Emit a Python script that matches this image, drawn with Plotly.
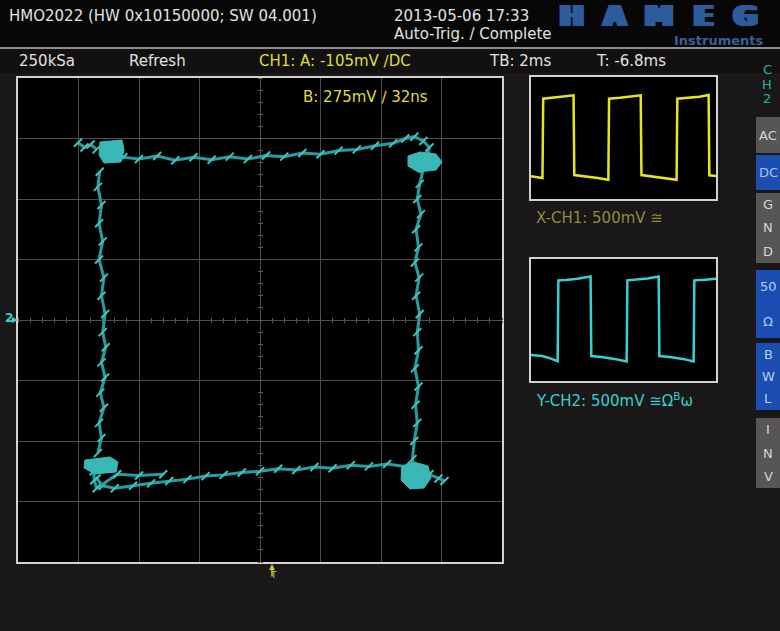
import plotly.graph_objects as go

W, H = 780, 631

# ---------------- data (screen divisions, 500 mV/div) ----------------
# XY trace, CH1 on X, CH2 on Y, drawn edge by edge
top_x = [-2.26, -2.00, -1.70, -1.40, -1.10, -0.80, -0.50, -0.20, 0.10, 0.40, 0.70,
         1.00, 1.30, 1.60, 1.90, 2.20, 2.40, 2.55, 2.70, 2.80, 2.75]
top_y = [2.69, 2.66, 2.71, 2.64, 2.69, 2.65, 2.70, 2.66, 2.72, 2.70, 2.76,
         2.74, 2.80, 2.82, 2.88, 2.92, 3.00, 3.03, 2.96, 2.85, 2.70]

right_x = [2.70, 2.64, 2.60, 2.66, 2.58, 2.62, 2.56, 2.63, 2.58, 2.64, 2.60,
           2.62, 2.56, 2.62, 2.57, 2.60, 2.55, 2.52, 2.53]
right_y = [2.50, 2.25, 2.00, 1.75, 1.50, 1.20, 0.95, 0.70, 0.40, 0.10, -0.20,
           -0.50, -0.80, -1.10, -1.40, -1.70, -2.00, -2.30, -2.50]

bottom_x = [2.40, 2.10, 1.80, 1.50, 1.20, 0.90, 0.60, 0.30, 0.00, -0.30, -0.60,
            -0.90, -1.20, -1.50, -1.80, -2.10, -2.40, -2.60, -2.70]
bottom_y = [-2.42, -2.38, -2.42, -2.40, -2.45, -2.43, -2.48, -2.46, -2.50, -2.52, -2.56,
            -2.58, -2.63, -2.66, -2.70, -2.74, -2.78, -2.74, -2.62]

left_x = [-2.68, -2.62, -2.66, -2.58, -2.64, -2.56, -2.62, -2.55, -2.60, -2.56,
          -2.62, -2.58, -2.66, -2.60, -2.66, -2.62, -2.68, -2.65]
left_y = [-2.20, -1.95, -1.70, -1.45, -1.20, -0.95, -0.70, -0.45, -0.20, 0.10,
          0.40, 0.70, 1.00, 1.30, 1.60, 1.90, 2.20, 2.45]

# short stray strokes near the corners
stray_tl_x = [-3.01, -2.90, -2.80, -2.70]
stray_tl_y = [2.93, 2.85, 2.90, 2.82]
stray_bl_x = [-2.75, -2.74, -2.70, -2.36, -2.00, -1.60]
stray_bl_y = [-2.50, -2.65, -2.78, -2.55, -2.57, -2.55]
stray_br_x = [2.80, 2.95, 3.05]
stray_br_y = [-2.55, -2.62, -2.66]

# dwell areas at the four corners (outlines)
blob_tl_x = [-2.645, -2.281, -2.248, -2.298, -2.579, -2.661, -2.645]
blob_tl_y = [2.942, 2.975, 2.810, 2.612, 2.595, 2.727, 2.942]
blob_tr_x = [2.446, 2.645, 2.909, 3.008, 2.909, 2.612, 2.446, 2.446]
blob_tr_y = [2.711, 2.777, 2.744, 2.612, 2.479, 2.446, 2.545, 2.711]
blob_br_x = [2.347, 2.545, 2.777, 2.826, 2.711, 2.479, 2.331, 2.347]
blob_br_y = [-2.413, -2.347, -2.413, -2.612, -2.777, -2.793, -2.645, -2.413]
blob_bl_x = [-2.893, -2.479, -2.347, -2.380, -2.727, -2.909, -2.893]
blob_bl_y = [-2.314, -2.264, -2.347, -2.512, -2.545, -2.446, -2.314]

# CH1 (X) time view
ch1_t = [0.00, 0.35, 0.62, 0.66, 1.20, 1.70, 2.30, 2.34, 3.00, 3.60, 4.18, 4.22,
         4.80, 5.40, 5.93, 5.97, 6.60, 7.20, 7.87, 7.91, 8.50, 9.10, 9.60, 9.64, 10.0]
ch1_v = [-2.50, -2.55, -2.62, 2.58, 2.64, 2.70, 2.80, -2.43, -2.52, -2.62, -2.74, 2.58,
         2.64, 2.70, 2.80, -2.43, -2.52, -2.62, -2.74, 2.58, 2.64, 2.70, 2.82, -2.45, -2.50]

# CH2 (Y) time view
ch2_t = [0.00, 0.60, 1.00, 1.44, 1.48, 1.90, 2.50, 3.22, 3.26, 3.80, 4.50, 5.17, 5.21,
         5.70, 6.30, 6.90, 6.94, 7.50, 8.20, 8.79, 8.83, 9.40, 10.0]
ch2_v = [-2.30, -2.36, -2.50, -2.70, 2.60, 2.62, 2.70, 2.85, -2.36, -2.42, -2.55, -2.72, 2.60,
         2.64, 2.72, 2.85, -2.36, -2.42, -2.55, -2.72, 2.60, 2.64, 2.70]

# ---------------- colours ----------------
BG = "#1a1718"
TEAL = "#2a9c9c"
TEAL_HATCH = "#3fc4c4"
TEAL_FILL = "#3ab8b8"
YEL = "#e6e61e"
CYAN = "#35d2d2"
GRID = "#4d4d4d"
FRAME = "#d2d2d2"
LOGO = "#2d5c9c"


def fx(p):
    return p / W


def fy(p):
    return 1 - p / H


fig = go.Figure()

# ---- XY view ----
for xs, ys in [(top_x, top_y), (right_x, right_y), (bottom_x, bottom_y), (left_x, left_y),
               (stray_tl_x, stray_tl_y), (stray_bl_x, stray_bl_y), (stray_br_x, stray_br_y)]:
    fig.add_trace(go.Scatter(
        x=xs, y=ys, mode="lines+markers", xaxis="x", yaxis="y",
        line=dict(color=TEAL, width=3),
        marker=dict(symbol="line-ne", size=8, line=dict(color=TEAL_HATCH, width=2)),
        hoverinfo="skip", showlegend=False))

for xs, ys in [(blob_tl_x, blob_tl_y), (blob_tr_x, blob_tr_y),
               (blob_br_x, blob_br_y), (blob_bl_x, blob_bl_y)]:
    fig.add_trace(go.Scatter(
        x=xs, y=ys, mode="lines", fill="toself", fillcolor=TEAL_FILL,
        line=dict(color=TEAL_FILL, width=1), xaxis="x", yaxis="y",
        hoverinfo="skip", showlegend=False))

# ---- time views ----
fig.add_trace(go.Scatter(x=ch1_t, y=ch1_v, mode="lines", xaxis="x2", yaxis="y2",
                         line=dict(color=YEL, width=2.5), hoverinfo="skip", showlegend=False))
fig.add_trace(go.Scatter(x=ch2_t, y=ch2_v, mode="lines", xaxis="x3", yaxis="y3",
                         line=dict(color=CYAN, width=2.5), hoverinfo="skip", showlegend=False))

main_xd = [fx(18), fx(502)]
main_yd = [fy(562), fy(78)]
pan_xd = [fx(531), fx(716)]


def frame_axis(domain, rng, grid=False, dtick=1):
    return dict(domain=domain, range=rng, showgrid=grid, gridcolor=GRID, gridwidth=1,
                dtick=dtick, zeroline=False, showticklabels=False, ticks="",
                showline=True, mirror=True, linecolor=FRAME, linewidth=2, fixedrange=True)


layout = dict(
    width=W, height=H, margin=dict(l=0, r=0, t=0, b=0),
    paper_bgcolor=BG, plot_bgcolor="#000000", showlegend=False,
    xaxis=frame_axis(main_xd, [-4, 4], grid=True),
    yaxis=frame_axis(main_yd, [-4, 4], grid=True),
    xaxis2=dict(frame_axis(pan_xd, [0, 10]), anchor="y2"),
    yaxis2=dict(frame_axis([fy(199), fy(77)], [-4, 4]), anchor="x2"),
    xaxis3=dict(frame_axis(pan_xd, [0, 10]), anchor="y3"),
    yaxis3=dict(frame_axis([fy(381), fy(259)], [-4, 4]), anchor="x3"),
    xaxis4=dict(frame_axis(pan_xd, [0, 10]), anchor="y4"),
    yaxis4=dict(frame_axis([fy(563), fy(441)], [-4, 4]), anchor="x4"),
)

# fine tick marks along the centre cross of the XY graticule
cy = (main_yd[0] + main_yd[1]) / 2
cx = (main_xd[0] + main_xd[1]) / 2
tick_common = dict(range=[-4, 4], dtick=0.2, tick0=0, ticks="outside", ticklen=2, tickwidth=1,
                   tickcolor="#5e5e5e", showgrid=False, zeroline=False, showline=False,
                   showticklabels=False, fixedrange=True)
layout["xaxis5"] = dict(tick_common, overlaying="x", anchor="free", position=cy, side="bottom",
                        domain=main_xd)
layout["xaxis6"] = dict(tick_common, overlaying="x", anchor="free", position=cy, side="top",
                        domain=main_xd)
layout["yaxis5"] = dict(tick_common, overlaying="y", anchor="free", position=cx, side="left",
                        domain=main_yd)
layout["yaxis6"] = dict(tick_common, overlaying="y", anchor="free", position=cx, side="right",
                        domain=main_yd)
fig.update_layout(**layout)

# invisible traces so the centre-tick axes are rendered
fig.add_trace(go.Scatter(x=[0], y=[0], xaxis="x5", yaxis="y5", mode="markers",
                         marker=dict(opacity=0), hoverinfo="skip", showlegend=False))
fig.add_trace(go.Scatter(x=[0], y=[0], xaxis="x6", yaxis="y6", mode="markers",
                         marker=dict(opacity=0), hoverinfo="skip", showlegend=False))

# ---- screen furniture ----
shapes = [
    dict(type="rect", xref="paper", yref="paper", x0=0, x1=1, y0=fy(47), y1=1,
         fillcolor="#080707", line=dict(width=0), layer="below"),
    dict(type="rect", xref="paper", yref="paper", x0=0, x1=1, y0=fy(73), y1=fy(49),
         fillcolor="#121011", line=dict(width=0), layer="below"),
    dict(type="line", xref="paper", yref="paper", x0=0, x1=1, y0=fy(48), y1=fy(48),
         line=dict(color="#b8b8b8", width=1.5)),
]

buttons = [
    (117, 153, "#585556", ["AC"], "#d6d6d6"),
    (155, 190, "#1b4eb0", ["DC"], "#a9c2f2"),
    (193, 263, "#585556", ["G", "N", "D"], "#d6d6d6"),
    (270, 338, "#1b4eb0", ["50", "Ω"], "#b9cdf2"),
    (343, 410, "#1b4eb0", ["B", "W", "L"], "#b9cdf2"),
    (418, 488, "#585556", ["I", "N", "V"], "#d6d6d6"),
]
annotations = []


def label(text, x, y, color="#e2e2e2", size=15, anchor="left", family="DejaVu Sans",
          shadow=None):
    font = dict(family=family, size=size, color=color)
    if shadow:
        font["shadow"] = shadow
    annotations.append(dict(text=text, x=fx(x), y=fy(y), xref="paper", yref="paper",
                            xanchor=anchor, yanchor="middle", showarrow=False, font=font))


for top, bot, col, labels, tcol in buttons:
    shapes.append(dict(type="rect", xref="paper", yref="paper", x0=fx(756), x1=1.02,
                       y0=fy(bot), y1=fy(top), fillcolor=col, line=dict(width=0)))
    n = len(labels)
    step = (bot - top) / n
    for i, lab in enumerate(labels):
        label(lab, 768, top + step * (i + 0.5), color=tcol, size=13, anchor="center")

for i, lab in enumerate(["C", "H", "2"]):
    label(lab, 767, 69 + 15 * i, color="#26b0a2", size=13, anchor="center")

label("HMO2022 (HW 0x10150000; SW 04.001)", 7, 16)
label("2013-05-06 17:33", 392, 16)
label("Auto-Trig. / Complete", 392, 34)
label("250kSa", 17, 61)
label("Refresh", 127, 61)
label("CH1: A: -105mV ∕DC", 257, 61, color="#dede3a")
label("TB: 2ms", 487, 61)
label("T: -6.8ms", 594, 61)
label("B: 275mV ∕ 32ns", 301, 97, color="#dede3a")
label("X-CH1: 500mV ≅", 534, 218, color="#8e8c38")
label("Y-CH2: 500mV ≅Ω<sup>B</sup>ω", 534, 400, color=CYAN)

# logo: heavy, wide letters (widened with horizontal text shadows)
wide = ", ".join("%spx 0px 0px %s" % (d, LOGO) for d in (-3, -1.5, 1.5, 3))
for ch, xc in zip("HAMEG", [571, 615, 659, 703, 745]):
    label("<b>%s</b>" % ch, xc, 16.5, color=LOGO, size=28, anchor="center", shadow=wide)
label("<b>Instruments</b>", 766, 40.5, color="#3a5f98", size=13, anchor="right")

# channel 2 ground marker and trigger position marker
label("<b>2</b>", 3, 318, color=CYAN, size=12)
annotations.append(dict(text="", x=fx(18), y=fy(320), xref="paper", yref="paper",
                        ax=-8, ay=0, showarrow=True, arrowhead=2, arrowsize=0.8,
                        arrowwidth=1.5, arrowcolor=CYAN))
annotations.append(dict(text="", x=fx(272), y=fy(564), xref="paper", yref="paper",
                        ax=0, ay=14, showarrow=True, arrowhead=2, arrowsize=0.8,
                        arrowwidth=1.5, arrowcolor="#c8c83a"))
label("T", 268, 575, color="#c8c83a", size=9)

fig.update_layout(shapes=shapes, annotations=annotations)
fig.write_html("out.html")
